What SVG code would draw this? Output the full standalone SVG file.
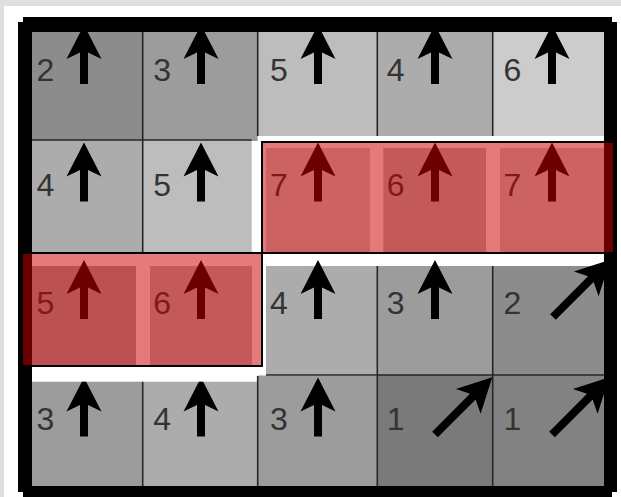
<svg xmlns="http://www.w3.org/2000/svg" width="621" height="497" viewBox="0 0 621 497">
<style>
.t{font-family:"Liberation Sans",Arial,sans-serif;font-size:32px;fill:#333}
.a{fill:#000}
.g{fill:none;stroke:#262626;stroke-width:1.6}
.sel{fill:rgb(204,0,0);fill-opacity:0.52}
.selb{fill:none;stroke:#000;stroke-width:2}
.frame{fill:#000;fill-rule:evenodd}
</style>
<defs>
<path id="up" d="M0,0 L17.5,34 L4,27.5 L4,59 L-4,59 L-4,27.5 L-17.5,34 Z"/>
<path id="dg" transform="rotate(45)" d="M0,-81 L17.5,-47 L4,-53.5 L4,0 L-4,0 L-4,-53.5 L-17.5,-47 Z"/>
<clipPath id="cr4a"><rect x="0" y="381.7" width="258" height="120"/></clipPath>
<clipPath id="cr4b"><rect x="250" y="375.5" width="130" height="120"/></clipPath>
</defs>
<rect x="0" y="0" width="621" height="497" fill="#fff"/>
<rect x="0" y="0" width="621" height="6" fill="#dfdfdf"/>
<rect x="0" y="0" width="4" height="497" fill="#dfdfdf"/>

<g id="cell-r1c1"><rect x="32" y="32" width="110.7" height="108" fill="#8c8c8c"/><text class="t" x="36.5" y="80.5">2</text><use class="a" href="#up" x="84" y="25"/></g>
<g id="cell-r1c2"><rect x="142.7" y="32" width="115" height="109" fill="#9c9c9c"/><text class="t" x="153.25" y="80.5">3</text><use class="a" href="#up" x="201" y="25"/></g>
<g id="cell-r1c3"><rect x="257.7" y="32" width="119.6" height="104" fill="#bdbdbd"/><text class="t" x="270" y="80.5">5</text><use class="a" href="#up" x="318" y="25"/></g>
<g id="cell-r1c4"><rect x="377.3" y="32" width="115.4" height="104" fill="#acacac"/><text class="t" x="386.75" y="80.5">4</text><use class="a" href="#up" x="435" y="25"/></g>
<g id="cell-r1c5"><rect x="492.7" y="32" width="111.3" height="104" fill="#cccccc"/><text class="t" x="503.5" y="80.5">6</text><use class="a" href="#up" x="552" y="25"/></g>

<g id="cell-r2c1"><rect x="32" y="140" width="110.7" height="112" fill="#acacac"/><text class="t" x="36.5" y="196">4</text><use class="a" href="#up" x="84" y="142.5"/></g>
<g id="cell-r2c2"><rect x="142.7" y="140" width="109" height="112" fill="#bdbdbd"/><text class="t" x="153.25" y="196">5</text><use class="a" href="#up" x="201" y="142.5"/></g>
<g id="cell-r2c3"><rect x="266" y="148" width="104" height="104" fill="#cccccc"/><text class="t" x="270" y="196">7</text><use class="a" href="#up" x="318" y="142.5"/></g>
<g id="cell-r2c4"><rect x="383.3" y="148" width="102.7" height="104" fill="#bbbbbb"/><text class="t" x="386.75" y="196">6</text><use class="a" href="#up" x="435" y="142.5"/></g>
<g id="cell-r2c5"><rect x="500" y="148" width="104" height="104" fill="#cccccc"/><text class="t" x="503.5" y="196">7</text><use class="a" href="#up" x="552" y="142.5"/></g>

<g id="cell-r3c1"><rect x="32" y="266" width="104" height="100" fill="#aaaaaa"/><text class="t" x="36.5" y="313.5">5</text><use class="a" href="#up" x="84" y="260"/></g>
<g id="cell-r3c2"><rect x="150" y="266" width="102" height="100" fill="#bbbbbb"/><text class="t" x="153.25" y="313.5">6</text><use class="a" href="#up" x="201" y="260"/></g>
<g id="cell-r3c3"><rect x="266" y="266" width="111.3" height="109" fill="#acacac"/><text class="t" x="270" y="313.5">4</text><use class="a" href="#up" x="318" y="260"/></g>
<g id="cell-r3c4"><rect x="377.3" y="266" width="115.4" height="109" fill="#9c9c9c"/><text class="t" x="386.75" y="313.5">3</text><use class="a" href="#up" x="435" y="260"/></g>
<g id="cell-r3c5"><rect x="492.7" y="266" width="111.3" height="109" fill="#8c8c8c"/><text class="t" x="503.5" y="313.5">2</text><use class="a" href="#dg" x="553" y="317"/></g>

<g id="cell-r4c1"><rect x="32" y="381.7" width="110.7" height="104.3" fill="#9c9c9c"/><text class="t" x="36.5" y="430">3</text><g clip-path="url(#cr4a)"><use class="a" href="#up" x="84" y="377.5"/></g></g>
<g id="cell-r4c2"><rect x="142.7" y="381.7" width="115" height="104.3" fill="#acacac"/><text class="t" x="153.25" y="430">4</text><g clip-path="url(#cr4a)"><use class="a" href="#up" x="201" y="377.5"/></g></g>
<g id="cell-r4c3"><rect x="257.7" y="375.5" width="119.6" height="110.5" fill="#9c9c9c"/><text class="t" x="270" y="430">3</text><g clip-path="url(#cr4b)"><use class="a" href="#up" x="318" y="377.5"/></g></g>
<g id="cell-r4c4"><rect x="377.3" y="375" width="115.4" height="111" fill="#7a7a7a"/><text class="t" x="386.75" y="430">1</text><use class="a" href="#dg" x="435" y="434.5"/></g>
<g id="cell-r4c5"><rect x="492.7" y="375" width="111.3" height="111" fill="#828282"/><text class="t" x="503.5" y="430">1</text><use class="a" href="#dg" x="552" y="434.5"/></g>

<path id="grid-lines" class="g" d="M142.7,32 V252 M257.7,32 V136 M377.3,32 V136 M492.7,32 V136 M32,140 H251.7 M377.3,266 V486 M492.7,266 V486 M266,375 H604 M142.7,381.7 V486 M257.7,376 V486"/>

<path id="frame" class="frame" d="M23,17 H612 V22 H617 V492 H612 V497 H23 V492 H18 V22 H23 Z M32,32 V486 H604 V32 Z"/>

<g id="selection-row2"><rect class="sel" x="262" y="142" width="351" height="111"/><path class="selb" d="M613,142 H262 V253 H613"/></g>
<g id="selection-row3"><rect class="sel" x="23" y="253" width="239" height="113"/><path class="selb" d="M23,253 H262 V366 H23"/></g>
</svg>
